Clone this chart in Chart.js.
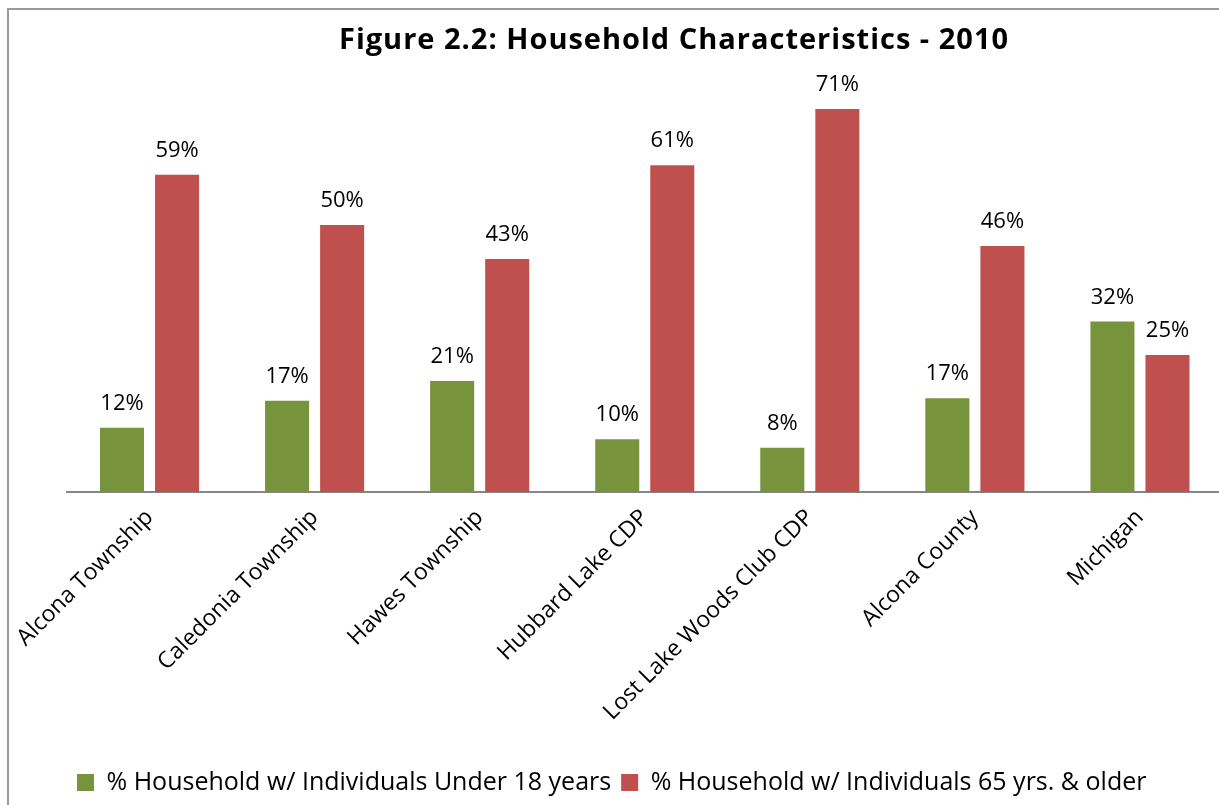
<!DOCTYPE html>
<html>
<head>
<meta charset="utf-8">
<script src="https://cdn.jsdelivr.net/npm/chart.js@4.4.1/dist/chart.umd.min.js"></script>
<style>
  html, body { margin: 0; padding: 0; background: #fff; overflow: hidden; }
  #frame { position: absolute; left: 7px; top: 8px; width: 1400px; height: 1000px; border: 2px solid #9a9a9a; }
  #wrap { position: absolute; left: 0; top: 0; width: 1240px; height: 805px; }
</style>
</head>
<body>
<div id="frame"></div>
<div id="wrap"><canvas id="chart"></canvas></div>
<script>
// Categories (X-axis)
var places = [
    'Alcona Township',
    'Caledonia Township',
    'Hawes Township',
    'Hubbard Lake CDP',
    'Lost Lake Woods Club CDP',
    'Alcona County',
    'Michigan'
];

// % households with individuals under 18
var under18 = [11.9, 16.9, 20.6, 9.8, 8.2, 17.4, 31.6];

// % households with individuals 65 and older
var over65 = [58.8, 49.5, 43.2, 60.6, 71.0, 45.6, 25.4];

var series_names = [
    '% Household w/ Individuals Under 18 years',
    '% Household w/ Individuals 65 yrs. & older'
];

var chart_title = 'Figure 2.2: Household Characteristics - 2010';

var FONT = '"Open Sans", "DejaVu Sans", sans-serif';

// Draws the value above each bar
var bar_labels = {
    id: 'bar_labels',
    afterDatasetsDraw: function( chart ){
        var ctx = chart.ctx;
        ctx.save();
        ctx.font = '22px ' + FONT;
        ctx.fillStyle = '#000';
        ctx.textAlign = 'center';
        ctx.textBaseline = 'alphabetic';
        chart.data.datasets.forEach(function( ds, i ){
            chart.getDatasetMeta(i).data.forEach(function( bar, j ){
                ctx.fillText( Math.round(ds.data[j]) + '%', bar.x, bar.y - 18 );
            });
        });
        ctx.restore();
    }
};

// Title is drawn by hand so it can sit off-centre like the original
var title_text = {
    id: 'title_text',
    afterDraw: function( chart ){
        var ctx = chart.ctx;
        ctx.save();
        ctx.font = 'bold 29px ' + FONT;
        ctx.letterSpacing = '1px';
        ctx.fillStyle = '#000';
        ctx.textAlign = 'center';
        ctx.textBaseline = 'alphabetic';
        ctx.fillText( chart_title, 674, 49 );
        ctx.restore();
    }
};

var ctx = document.getElementById('chart').getContext('2d');

new Chart(ctx, {
    type: 'bar',
    data: {
        labels: places,
        datasets: [{
            label: series_names[0],
            data: under18,
            backgroundColor: '#77933C',
            categoryPercentage: 0.667,
            barPercentage: 0.8
        }, {
            label: series_names[1],
            data: over65,
            backgroundColor: '#C0504D',
            categoryPercentage: 0.667,
            barPercentage: 0.8
        }]
    },
    options: {
        responsive: true,
        maintainAspectRatio: false,
        animation: false,
        devicePixelRatio: 1,
        layout: {
            padding: { left: 67, right: 17.5, top: 60.5, bottom: 0 }
        },
        plugins: {
            title: { display: false },
            tooltip: { enabled: false },
            legend: {
                position: 'bottom',
                align: 'start',
                labels: {
                    color: '#000',
                    font: { family: FONT, size: 25 },
                    boxWidth: 17,
                    boxHeight: 17,
                    padding: 10
                }
            }
        },
        scales: {
            x: {
                grid: { display: false, drawTicks: false },
                border: { display: true, color: '#868686', width: 2 },
                ticks: {
                    color: '#000',
                    font: { family: FONT, size: 23 },
                    minRotation: 45,
                    maxRotation: 45,
                    padding: 12
                },
                afterFit: function( scale ){ scale.height = 268; }
            },
            y: {
                display: false,
                min: 0,
                max: 80
            }
        }
    },
    plugins: [ bar_labels, title_text ]
});
</script>
</body>
</html>
